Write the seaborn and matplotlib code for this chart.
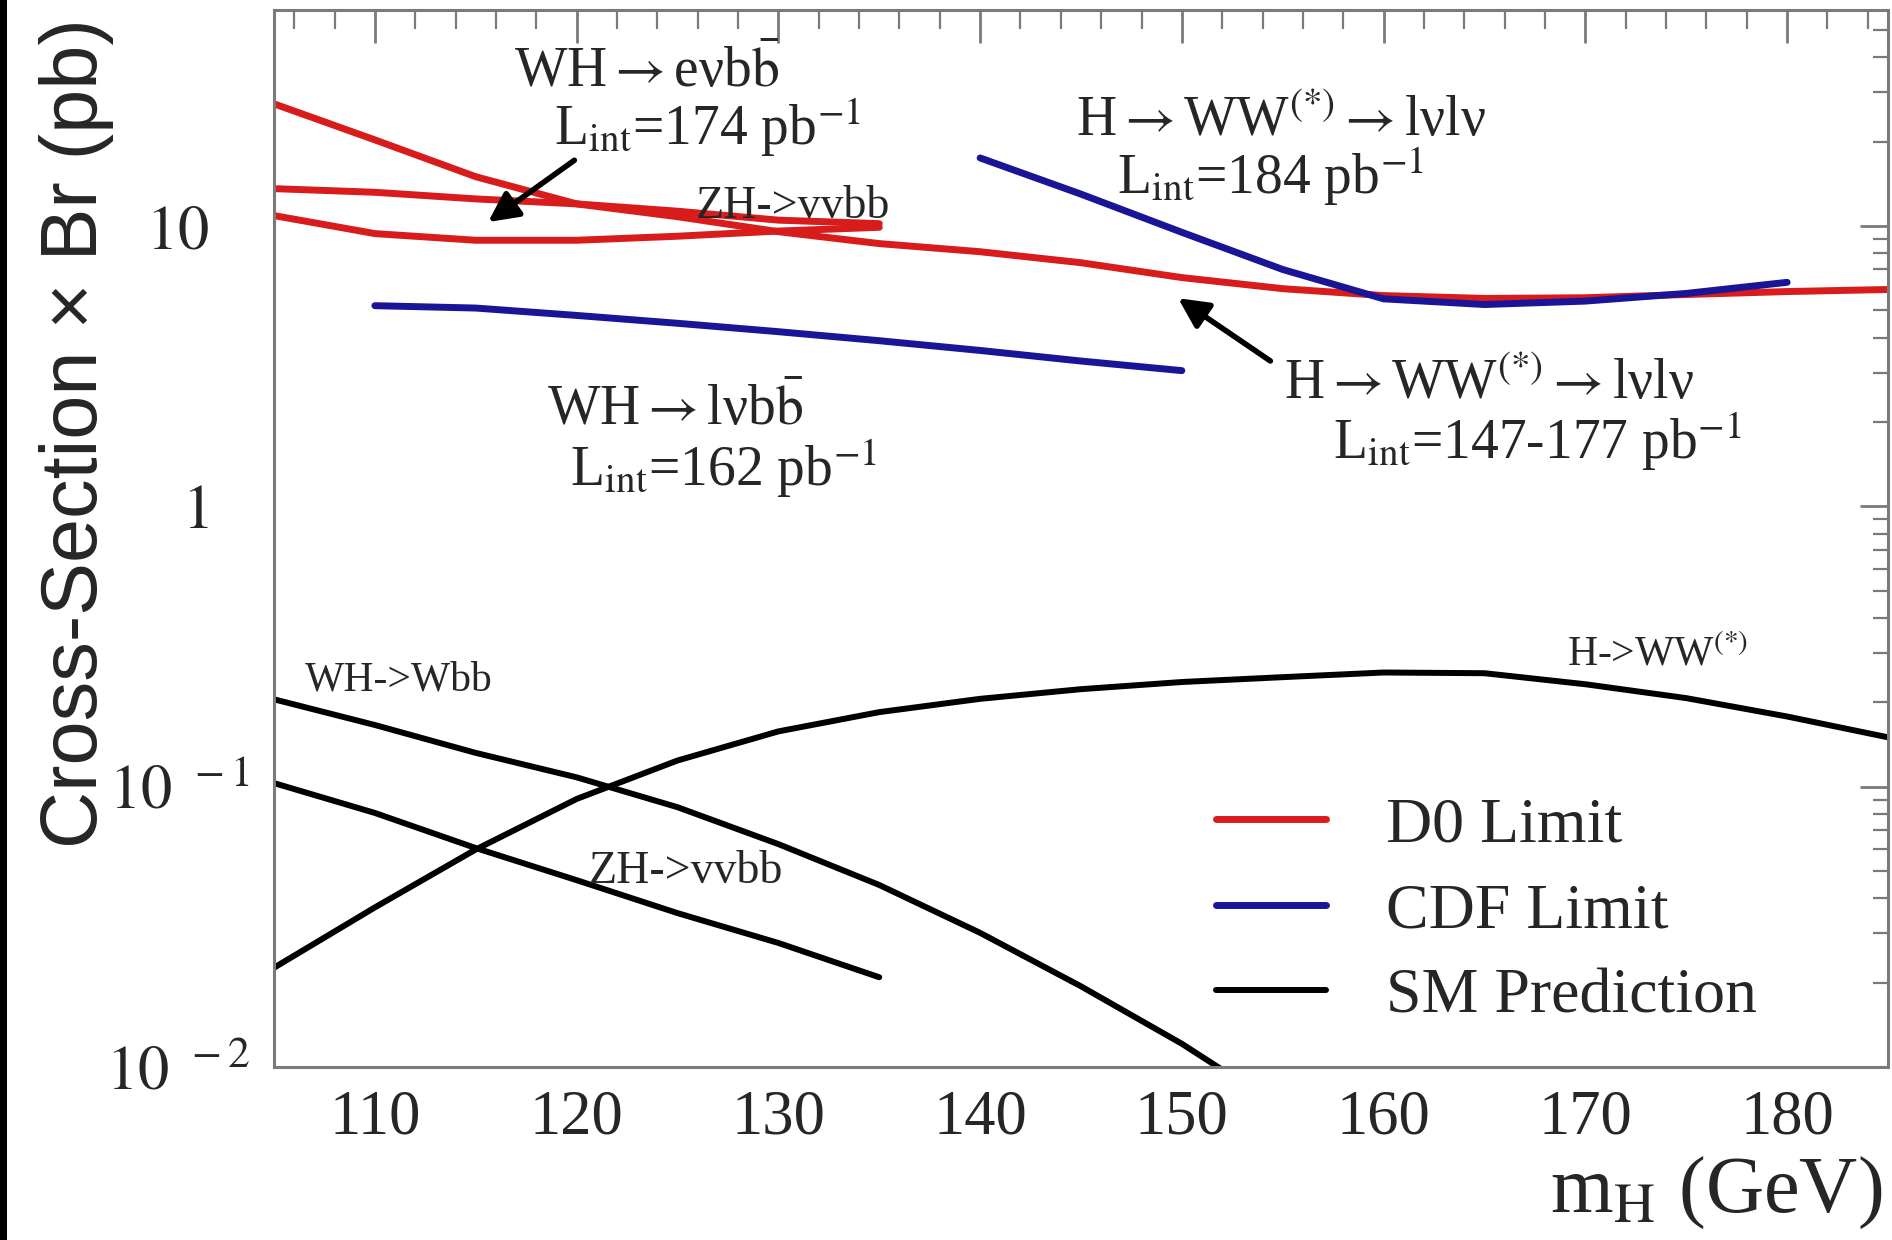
import matplotlib
matplotlib.use("Agg")
import matplotlib.pyplot as plt
import matplotlib.ticker as mticker
from matplotlib.patches import Rectangle
import seaborn as sns

# ---- data -----------------------------------------------------------------
# D0 95% CL limits (pb)
mh_d0_ww = [105, 110, 115, 120, 125, 130, 135, 140, 145, 150, 155, 160, 165, 170, 175, 180, 185]
d0_ww = [27.3, 20.3, 15.0, 12.0, 10.8, 9.55, 8.66, 8.1, 7.4, 6.55, 5.98, 5.65, 5.52, 5.55, 5.7, 5.84, 5.94]
mh_d0_vh = [105, 110, 115, 120, 125, 130, 135]
d0_zh = [13.6, 13.2, 12.5, 12.0, 11.3, 10.5, 10.2]
d0_wh = [10.9, 9.4, 8.9, 8.9, 9.2, 9.6, 9.9]

# CDF 95% CL limits (pb)
mh_cdf_wh = [110, 115, 120, 125, 130, 135, 140, 145, 150]
cdf_wh = [5.2, 5.1, 4.8, 4.5, 4.2, 3.9, 3.6, 3.3, 3.05]
mh_cdf_ww = [140, 145, 150, 155, 160, 165, 170, 175, 180]
cdf_ww = [17.5, 13.0, 9.5, 7.0, 5.5, 5.25, 5.4, 5.75, 6.3]

# Standard Model cross-section x branching ratio (pb)
mh_sm_wh = [105, 110, 115, 120, 125, 130, 135, 140, 145, 150, 155]
sm_wh = [0.205, 0.166, 0.132, 0.108, 0.0845, 0.0624, 0.0446, 0.0301, 0.0194, 0.0121, 0.0071]
mh_sm_zh = [105, 110, 115, 120, 125, 130, 135]
sm_zh = [0.103, 0.0806, 0.0604, 0.0464, 0.0354, 0.0277, 0.0209]
mh_sm_ww = [105, 110, 115, 120, 125, 130, 135, 140, 145, 150, 155, 160, 165, 170, 175, 180, 185]
sm_ww = [0.0226, 0.0371, 0.0597, 0.0904, 0.124, 0.1575, 0.1845, 0.2058, 0.2228, 0.2363, 0.2459,
         0.2555, 0.254, 0.232, 0.207, 0.178, 0.150]

y_ticks = [0.01, 0.1, 1, 10]
y_tick_labels = [r"$10^{\enspace-2}$", r"$10^{\enspace-1}$", r"$1$", r"$10$"]
legend_labels = ["D0 Limit", "CDF Limit", "SM Prediction"]

# ---- style ----------------------------------------------------------------
sns.set_style("white")
plt.rcParams["font.family"] = ["Liberation Serif", "DejaVu Serif"]
plt.rcParams["mathtext.fontset"] = "stix"

RED = "#d81c1c"
BLUE = "#1a1496"
BLACK = "#000000"
FRAME = "#7a7a7a"

W, H = 1892, 1240
fig = plt.figure(figsize=(W / 100, H / 100), dpi=100)
fig.patch.set_facecolor("white")
ax = fig.add_axes([274 / W, 1 - 1067 / H, (1888 - 274) / W, (1067 - 10) / H])

# dark strip along the left border
fig.patches.append(Rectangle((0, 0), 7 / W, 1, transform=fig.transFigure,
                             facecolor="black", edgecolor="none", zorder=10))

# ---- curves ---------------------------------------------------------------
def curve(x, y, color, lw, label=None):
    sns.lineplot(x=x, y=y, ax=ax, color=color, lw=lw, sort=False,
                 estimator=None, label=label, legend=False)

curve(mh_d0_ww, d0_ww, RED, 5.0, legend_labels[0])
curve(mh_d0_vh, d0_zh, RED, 5.0)
curve(mh_d0_vh, d0_wh, RED, 5.0)
curve(mh_cdf_wh, cdf_wh, BLUE, 5.0, legend_labels[1])
curve(mh_cdf_ww, cdf_ww, BLUE, 5.0)
curve(mh_sm_wh, sm_wh, BLACK, 4.3, legend_labels[2])
curve(mh_sm_zh, sm_zh, BLACK, 4.3)
curve(mh_sm_ww, sm_ww, BLACK, 4.3)

# ---- axes -----------------------------------------------------------------
ax.set_yscale("log")
ax.set_xlim(105, 185)
ax.set_ylim(0.01, 59)

ax.xaxis.set_major_locator(mticker.MultipleLocator(10))
ax.xaxis.set_minor_locator(mticker.MultipleLocator(2))
ax.yaxis.set_major_locator(mticker.FixedLocator(y_ticks))
ax.yaxis.set_major_formatter(mticker.FixedFormatter(y_tick_labels))
ax.yaxis.set_minor_locator(mticker.LogLocator(base=10, subs=range(2, 10)))
ax.yaxis.set_minor_formatter(mticker.NullFormatter())

ax.tick_params(which="both", direction="in", top=True, right=True, color=FRAME)
ax.tick_params(axis="x", which="major", length=24, width=2, labelsize=45, pad=16)
ax.tick_params(axis="x", which="minor", length=14, width=1.6)
ax.tick_params(axis="y", which="major", length=20, width=2, labelsize=45, pad=17)
ax.tick_params(axis="y", which="minor", length=11, width=1.6)

# plain decade labels sit further from the axis than the power-of-ten ones
for tick, pad in zip(ax.yaxis.get_major_ticks(len(y_ticks)), [17, 17, 47, 47]):
    tick.set_pad(pad)

for s in ax.spines.values():
    s.set_color(FRAME)
    s.set_linewidth(2.2)

ax.set_xlabel(r"m$_{\rm H}$ (GeV)", fontsize=58, loc="right")
ax.xaxis.set_label_coords(0.9963, -0.083)
ax.set_ylabel("Cross-Section × Br (pb)", fontsize=57, loc="top",
              fontfamily="Liberation Sans")
ax.yaxis.set_label_coords(-0.099, 0.992)

# ---- annotations ----------------------------------------------------------
big = 40
small = 30
mid = 33
ax.text(123.5, 35.5, r"WH$\rightarrow$eνb$\bar{\rm b}$", fontsize=big, ha="center", va="center")
ax.text(126.5, 22.5, r"L$_{\rm int}$=174 pb$^{-1}$", fontsize=big, ha="center", va="center")
ax.annotate("", xy=(115.5, 10.2), xytext=(120.0, 17.4),
            arrowprops=dict(arrowstyle="-|>", lw=4, color="black", mutation_scale=45))
ax.text(130.7, 11.7, "ZH->vvbb", fontsize=mid, ha="center", va="center")

ax.text(154.9, 23.5, r"H$\rightarrow$WW$^{(*)}$$\rightarrow$lνlν", fontsize=big, ha="center", va="center")
ax.text(154.4, 15.0, r"L$_{\rm int}$=184 pb$^{-1}$", fontsize=big, ha="center", va="center")

ax.text(124.9, 2.2, r"WH$\rightarrow$lνb$\bar{\rm b}$", fontsize=big, ha="center", va="center")
ax.text(127.3, 1.37, r"L$_{\rm int}$=162 pb$^{-1}$", fontsize=big, ha="center", va="center")

ax.text(165.2, 2.72, r"H$\rightarrow$WW$^{(*)}$$\rightarrow$lνlν", fontsize=big, ha="center", va="center")
ax.text(167.6, 1.70, r"L$_{\rm int}$=147-177 pb$^{-1}$", fontsize=big, ha="center", va="center")
ax.annotate("", xy=(149.7, 5.6), xytext=(154.5, 3.26),
            arrowprops=dict(arrowstyle="-|>", lw=4, color="black", mutation_scale=45))

ax.text(111.2, 0.24, "WH->Wbb", fontsize=small, ha="center", va="center")
ax.text(125.4, 0.0496, "ZH->vvbb", fontsize=mid, ha="center", va="center")
ax.text(173.6, 0.294, r"H->WW$^{(*)}$", fontsize=small, ha="center", va="center")

# ---- legend ---------------------------------------------------------------
handles = [ax.lines[0], ax.lines[3], ax.lines[5]]
leg = ax.legend(handles, legend_labels, loc="upper left", bbox_to_anchor=(0.5836, 0.2555),
                frameon=False, fontsize=46, handlelength=1.72, handletextpad=0.94,
                labelspacing=0.42, borderpad=0, borderaxespad=0)

fig.savefig("out.png", dpi=100, facecolor="white")
